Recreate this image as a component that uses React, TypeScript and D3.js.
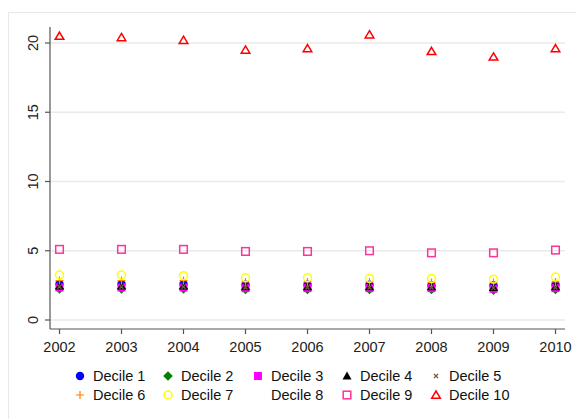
import React, { useEffect, useRef } from 'react';
import * as d3 from 'd3';

const years = [2002, 2003, 2004, 2005, 2006, 2007, 2008, 2009, 2010];
const yTicks = [0, 5, 10, 15, 20];

const decile1 = [2.6, 2.6, 2.6, 2.55, 2.55, 2.55, 2.5, 2.5, 2.55];
const decile2 = [2.25, 2.25, 2.25, 2.2, 2.2, 2.2, 2.2, 2.15, 2.2];
const decile3 = [2.35, 2.35, 2.35, 2.3, 2.3, 2.3, 2.3, 2.25, 2.3];
const decile4 = [2.45, 2.45, 2.45, 2.4, 2.4, 2.4, 2.4, 2.35, 2.4];
const decile5 = [2.4, 2.4, 2.4, 2.35, 2.35, 2.35, 2.35, 2.3, 2.35];
const decile6 = [2.85, 2.85, 2.85, 2.75, 2.75, 2.75, 2.7, 2.7, 2.75];
const decile7 = [3.25, 3.25, 3.2, 3.05, 3.05, 3.0, 3.0, 2.95, 3.1];
const decile8 = [3.7, 3.7, 3.7, 3.6, 3.6, 3.6, 3.5, 3.5, 3.6];
const decile9 = [5.1, 5.1, 5.1, 4.95, 4.95, 5.0, 4.85, 4.85, 5.05];
const decile10 = [20.5, 20.4, 20.2, 19.5, 19.6, 20.6, 19.4, 19.0, 19.6];

type Marker = 'circle' | 'diamond' | 'square' | 'triangle' | 'x' | 'plus' | 'ocircle' | 'none' | 'osquare' | 'otriangle';

const series: { name: string; values: number[]; color: string; marker: Marker }[] = [
  { name: 'Decile 1', values: decile1, color: '#0000ff', marker: 'circle' },
  { name: 'Decile 2', values: decile2, color: '#008000', marker: 'diamond' },
  { name: 'Decile 3', values: decile3, color: '#ff00ff', marker: 'square' },
  { name: 'Decile 4', values: decile4, color: '#000000', marker: 'triangle' },
  { name: 'Decile 5', values: decile5, color: '#7a6236', marker: 'x' },
  { name: 'Decile 6', values: decile6, color: '#ff7f00', marker: 'plus' },
  { name: 'Decile 7', values: decile7, color: '#ffff00', marker: 'ocircle' },
  { name: 'Decile 8', values: decile8, color: '#ffffff', marker: 'none' },
  { name: 'Decile 9', values: decile9, color: '#ff3399', marker: 'osquare' },
  { name: 'Decile 10', values: decile10, color: '#ff0000', marker: 'otriangle' },
];

const W = 576;
const H = 419;

function drawMarker(g: d3.Selection<SVGGElement, unknown, null, undefined>, m: Marker, color: string) {
  switch (m) {
    case 'circle':
      g.append('circle').attr('r', 4.2).attr('fill', color);
      break;
    case 'diamond':
      g.append('path').attr('d', 'M0,-4.8L4.8,0L0,4.8L-4.8,0Z').attr('fill', color);
      break;
    case 'square':
      g.append('rect').attr('x', -4).attr('y', -4).attr('width', 8).attr('height', 8).attr('fill', color);
      break;
    case 'triangle':
      g.append('path').attr('d', 'M0,-4.5L4.5,3.5L-4.5,3.5Z').attr('fill', color);
      break;
    case 'x':
      g.append('path').attr('d', 'M-2,-2L2,2M-2,2L2,-2').attr('stroke', color).attr('stroke-width', 1.3).attr('fill', 'none');
      break;
    case 'plus':
      g.append('path').attr('d', 'M-4,0L4,0M0,-4L0,4').attr('stroke', color).attr('stroke-width', 1.2).attr('fill', 'none');
      break;
    case 'ocircle':
      g.append('circle').attr('r', 4).attr('fill', 'none').attr('stroke', color).attr('stroke-width', 1.5);
      break;
    case 'osquare':
      g.append('rect').attr('x', -3.8).attr('y', -3.8).attr('width', 7.6).attr('height', 7.6)
        .attr('fill', 'none').attr('stroke', color).attr('stroke-width', 1.5);
      break;
    case 'otriangle':
      g.append('path').attr('d', 'M0,-4L4.3,3.2L-4.3,3.2Z').attr('fill', 'none')
        .attr('stroke', color).attr('stroke-width', 1.5).attr('stroke-linejoin', 'miter');
      break;
    default:
      break;
  }
}

const App: React.FC = () => {
  const svgRef = useRef<SVGSVGElement>(null);

  useEffect(() => {
    if (!svgRef.current) return;
    const svg = d3.select(svgRef.current);
    svg.selectAll('*').remove();

    const plot = { left: 50, right: 565, top: 27, bottom: 329 };
    const font = 'Liberation Sans, Arial, sans-serif';

    const x = d3.scaleLinear().domain([2002, 2010]).range([59.5, 555.5]);
    const y = d3.scaleLinear().domain([0, 20]).range([320, 43]);

    // outer graph region frame
    svg.append('rect')
      .attr('x', 8.5).attr('y', 12.5).attr('width', W).attr('height', H)
      .attr('fill', 'white').attr('stroke', '#e8e8e8').attr('stroke-width', 1);

    // grid
    svg.append('g').selectAll('line').data(yTicks).enter().append('line')
      .attr('x1', plot.left).attr('x2', plot.right)
      .attr('y1', d => y(d)).attr('y2', d => y(d))
      .attr('stroke', '#eaeaea').attr('stroke-width', 1.5);

    // y axis
    const yAxis = svg.append('g');
    yAxis.append('line').attr('x1', plot.left).attr('x2', plot.left)
      .attr('y1', plot.top).attr('y2', plot.bottom).attr('stroke', '#555').attr('stroke-width', 1.2);
    yAxis.selectAll('line.tick').data(yTicks).enter().append('line').attr('class', 'tick')
      .attr('x1', plot.left - 5).attr('x2', plot.left)
      .attr('y1', d => y(d)).attr('y2', d => y(d)).attr('stroke', '#555').attr('stroke-width', 1.2);
    yAxis.selectAll('text').data(yTicks).enter().append('text')
      .attr('transform', d => `translate(38,${y(d)}) rotate(-90)`)
      .attr('text-anchor', 'middle')
      .attr('font-family', font).attr('font-size', 14.5).attr('fill', '#222')
      .text(d => String(d));

    // x axis
    const xAxis = svg.append('g');
    xAxis.append('line').attr('x1', plot.left).attr('x2', plot.right)
      .attr('y1', plot.bottom).attr('y2', plot.bottom).attr('stroke', '#555').attr('stroke-width', 1.2);
    xAxis.selectAll('line.tick').data(years).enter().append('line').attr('class', 'tick')
      .attr('x1', d => x(d)).attr('x2', d => x(d))
      .attr('y1', plot.bottom).attr('y2', plot.bottom + 5).attr('stroke', '#555').attr('stroke-width', 1.2);
    xAxis.selectAll('text').data(years).enter().append('text')
      .attr('x', d => x(d)).attr('y', 352)
      .attr('text-anchor', 'middle')
      .attr('font-family', font).attr('font-size', 14.5).attr('fill', '#222')
      .text(d => String(d));

    // points
    series.forEach(s => {
      s.values.forEach((v, i) => {
        const g = svg.append('g').attr('transform', `translate(${x(years[i])},${y(v)})`);
        drawMarker(g, s.marker, s.color);
      });
    });

    // legend
    const colMarker = [80, 168, 258, 347, 436];
    const rowY = [376, 395];
    series.forEach((s, i) => {
      const col = i % 5;
      const row = Math.floor(i / 5);
      const g = svg.append('g').attr('transform', `translate(${colMarker[col]},${rowY[row]})`);
      drawMarker(g, s.marker, s.color);
      svg.append('text')
        .attr('x', colMarker[col] + 13).attr('y', rowY[row] + 5)
        .attr('font-family', font).attr('font-size', 14.5).attr('fill', '#111')
        .text(s.name);
    });
  }, []);

  return (
    <div style={{ position: 'absolute', left: 0, top: 0 }}>
      <svg ref={svgRef} width={W} height={H} style={{ display: 'block' }} />
    </div>
  );
};

export default App;
